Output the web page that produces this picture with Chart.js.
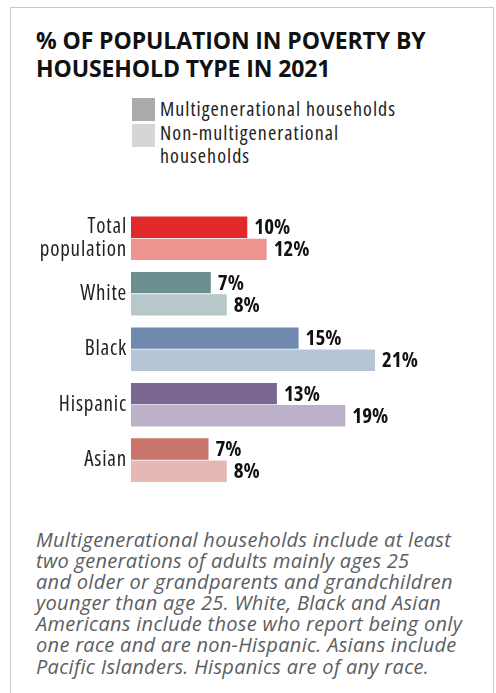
<!DOCTYPE html>
<html>
<head>
<meta charset="utf-8">
<script src="https://cdn.jsdelivr.net/npm/chart.js@4.4.1/dist/chart.umd.min.js"></script>
<style>
  html, body { margin: 0; padding: 0; background: #fff; }
  .card {
    position: absolute; left: 10px; top: 7px; width: 484px; height: 700px;
    border: 1px solid #c8c8c8; border-bottom: none; box-sizing: border-box;
  }
  .title {
    position: absolute; left: 36px; top: 26px; margin: 0;
    font: bold 23px "Open Sans", sans-serif; line-height: 28px; color: #111;
    letter-spacing: -0.1px;
  }
  .legend { position: absolute; left: 132px; top: 97px; }
  .legend div { position: relative; padding-left: 28px; min-height: 24px;
    font-family: "Open Sans", sans-serif; font-size: 20px; font-stretch: condensed;
    letter-spacing: 1.05px; line-height: 23.3px; color: #222; }
  .legend span { position: absolute; left: 0; top: 1px; width: 23px; height: 23px; }
  .legend div + div span { top: 3px; }
  .note {
    position: absolute; left: 36px; top: 529px; margin: 0; white-space: nowrap;
    font: italic 20px "Open Sans", sans-serif; line-height: 21.1px; color: #5b5e62;
    letter-spacing: 0.3px;
  }
  #wrap { position: absolute; left: 11px; top: 195px; width: 482px; height: 320px; }
</style>
</head>
<body>
<div class="card"></div>
<h1 class="title">% OF POPULATION IN POVERTY BY<br>HOUSEHOLD TYPE IN 2021</h1>
<div class="legend" id="legend"></div>
<div id="wrap"><canvas id="chart"></canvas></div>
<p class="note">Multigenerational households include at least<br>two generations of adults mainly ages 25<br>and older or grandparents and grandchildren<br>younger than age 25. White, Black and Asian<br>Americans include those who report being only<br>one race and are non-Hispanic. Asians include<br>Pacific Islanders. Hispanics are of any race.</p>

<script>
const categories = [['Total', 'population'], 'White', 'Black', 'Hispanic', 'Asian'];
const seriesNames = ['Multigenerational households', 'Non-multigenerational households'];
const multigen = [10.2, 7.0, 14.7, 12.8, 6.8];
const nonMultigen = [11.9, 8.4, 21.4, 18.8, 8.4];
const multigenColors = ['#e1282a', '#6b8f8e', '#6f8aae', '#7b6891', '#c9756b'];
const nonMultigenColors = ['#ef9391', '#b6c8ca', '#b7c4d6', '#bcb1c8', '#e5b8b3'];
const legendColors = ['#aaaaaa', '#d6d6d6'];

const family = '"Open Sans", sans-serif';

// html legend, the bars carry their own colors so the key is plain grey
const legend = document.getElementById('legend');
seriesNames.forEach((name, i) => {
  const row = document.createElement('div');
  row.innerHTML = '<span style="background:' + legendColors[i] + '"></span>' +
    (i === 1 ? 'Non-multigenerational<br>households' : name);
  legend.appendChild(row);
});

// condensed face is a bit tight, open it up for the axis labels
const spacing = {
  id: 'spacing',
  beforeDraw(chart) { chart.ctx.letterSpacing = '0.8px'; }
};

const valueLabels = {
  id: 'valueLabels',
  afterDatasetsDraw(chart) {
    const ctx = chart.ctx;
    ctx.save();
    ctx.letterSpacing = '0px';
    ctx.font = 'bold condensed 21px ' + family;
    ctx.fillStyle = '#111';
    ctx.textBaseline = 'middle';
    chart.data.datasets.forEach((ds, di) => {
      chart.getDatasetMeta(di).data.forEach((bar, i) => {
        ctx.fillText(Math.round(ds.data[i]) + '%', bar.x + 7, bar.y + 1);
      });
    });
    ctx.restore();
  }
};

new Chart(document.getElementById('chart'), {
  type: 'bar',
  data: {
    labels: categories,
    datasets: [
      { label: seriesNames[0], data: multigen, backgroundColor: multigenColors },
      { label: seriesNames[1], data: nonMultigen, backgroundColor: nonMultigenColors }
    ]
  },
  options: {
    indexAxis: 'y',
    responsive: true,
    maintainAspectRatio: false,
    animation: false,
    categoryPercentage: 0.8,
    barPercentage: 0.965,
    layout: { padding: { top: 8, bottom: 6, right: 20, left: 0 } },
    scales: {
      x: { display: false, min: 0, max: 30 },
      y: {
        grid: { display: false, drawTicks: false },
        border: { display: false },
        // weight string carries the stretch keyword into the canvas font
        ticks: { color: '#222', padding: 4, font: { family: family, size: 21, weight: 'condensed', lineHeight: 1.1 } },
        afterFit(scale) { scale.width = 120; }
      }
    },
    plugins: { legend: { display: false }, tooltip: { enabled: false } }
  },
  plugins: [spacing, valueLabels]
});
</script>
</body>
</html>
